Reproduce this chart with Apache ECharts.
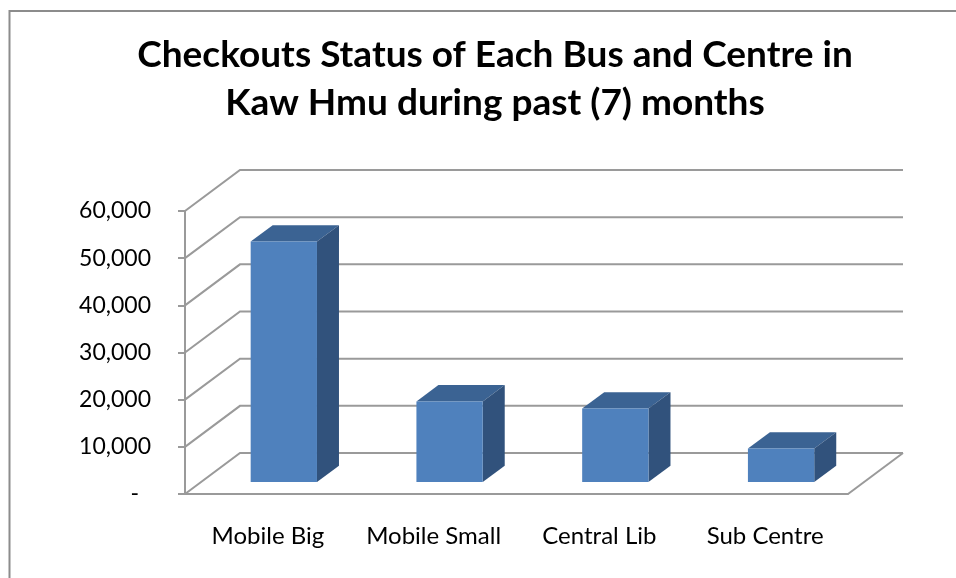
<!DOCTYPE html>
<html lang="en">
<head>
    <meta charset="UTF-8">
    <title>Checkouts Status</title>
    <style>
        html, body { margin: 0; padding: 0; background: #fff; }
        #chart { width: 956px; height: 578px; }
    </style>
</head>
<body>
    <div id="chart"></div>

    <script src="https://cdn.jsdelivr.net/npm/echarts@6.0.0/dist/echarts.min.js"></script>
    <script>
        // data
        var categories = ['Mobile Big', 'Mobile Small', 'Central Lib', 'Sub Centre'];
        var checkouts = [51000, 17100, 15600, 7100];
        var yTicks = [0, 10000, 20000, 30000, 40000, 50000, 60000];

        // oblique depth of the 3d floor / walls (px)
        var DX = 55, DY = 41;
        var GRID_COLOR = '#9a9a9a';
        var FONT = 'Lato';

        function renderWall(params, api) {
            var cs = params.coordSys;
            var v = api.value(1);
            var y = api.coord([0, v])[1];
            var x0 = cs.x, x1 = cs.x + cs.width;
            var lineStyle = {stroke: GRID_COLOR, lineWidth: 2, fill: null};
            var children = [{
                type: 'polyline',
                shape: {points: [[x0, y], [x0 + DX, y - DY], [x1 + DX, y - DY]]},
                style: lineStyle
            }];
            if (v === 0) {
                // right edge of the floor
                children.push({
                    type: 'line',
                    shape: {x1: x1, y1: y, x2: x1 + DX, y2: y - DY},
                    style: lineStyle
                });
            }
            return {type: 'group', children: children};
        }

        function renderBar(params, api) {
            var i = api.value(0);
            var top = api.coord([i, api.value(1)]);
            var base = api.coord([i, 0]);
            var w = api.size([1, 0])[0] * 0.4;
            // bar sits in the middle of the floor depth
            var fx = top[0] - w / 2 + DX * 0.29;
            var fy = top[1] - DY * 0.29;
            var by = base[1] - DY * 0.29;
            var dx = DX * 0.4, dy = DY * 0.4;
            return {
                type: 'group',
                children: [{
                    type: 'polygon',
                    shape: {points: [[fx, fy], [fx + dx, fy - dy], [fx + w + dx, fy - dy], [fx + w, fy]]},
                    style: {fill: '#3b6393'}
                }, {
                    type: 'polygon',
                    shape: {points: [[fx + w, fy], [fx + w + dx, fy - dy], [fx + w + dx, by - dy], [fx + w, by]]},
                    style: {fill: '#31527c'}
                }, {
                    type: 'rect',
                    shape: {x: fx, y: fy, width: w, height: by - fy},
                    style: {fill: '#4f81bd'}
                }]
            };
        }

        var chart = echarts.init(document.getElementById('chart'));
        var option = {
            animation: false,
            backgroundColor: '#fff',
            title: {
                text: 'Checkouts Status of Each Bus and Centre in\nKaw Hmu during past (7) months',
                left: 490,
                top: 26,
                textAlign: 'center',
                textStyle: {
                    fontFamily: FONT,
                    fontSize: 37,
                    fontWeight: 'bold',
                    color: '#000',
                    lineHeight: 48
                }
            },
            graphic: [{
                type: 'rect',
                shape: {x: 9.5, y: 11, width: 960, height: 580},
                style: {fill: null, stroke: '#8c8c8c', lineWidth: 2},
                silent: true
            }],
            grid: {
                left: 185,
                right: 108,
                top: 211,
                bottom: 84
            },
            xAxis: {
                type: 'category',
                data: categories,
                axisLine: {lineStyle: {color: GRID_COLOR, width: 2}},
                axisTick: {length: 7, lineStyle: {color: GRID_COLOR, width: 2}},
                axisLabel: {
                    interval: 0,
                    hideOverlap: false,
                    margin: 30,
                    fontFamily: FONT,
                    fontSize: 24,
                    color: '#000'
                }
            },
            yAxis: {
                type: 'value',
                min: 0,
                max: 60000,
                interval: 10000,
                splitLine: {show: false},
                axisLine: {show: true, lineStyle: {color: GRID_COLOR, width: 2}},
                axisTick: {show: true, length: 7, lineStyle: {color: GRID_COLOR, width: 2}},
                axisLabel: {
                    margin: 34,
                    fontFamily: FONT,
                    fontSize: 23,
                    color: '#000',
                    formatter: function (v) {
                        return v === 0 ? '{z|-}' : v.toLocaleString('en-US');
                    },
                    rich: {
                        z: {fontFamily: FONT, fontSize: 23, color: '#000', padding: [0, 12, 0, 0]}
                    }
                }
            },
            series: [{
                type: 'custom',
                name: 'walls',
                z: 1,
                clip: false,
                silent: true,
                renderItem: renderWall,
                data: yTicks.map(function (v) { return [0, v]; })
            }, {
                type: 'custom',
                name: 'Checkouts',
                z: 3,
                clip: false,
                renderItem: renderBar,
                data: checkouts.map(function (v, i) { return [i, v]; })
            }]
        };
        chart.setOption(option);
    </script>
</body>
</html>
